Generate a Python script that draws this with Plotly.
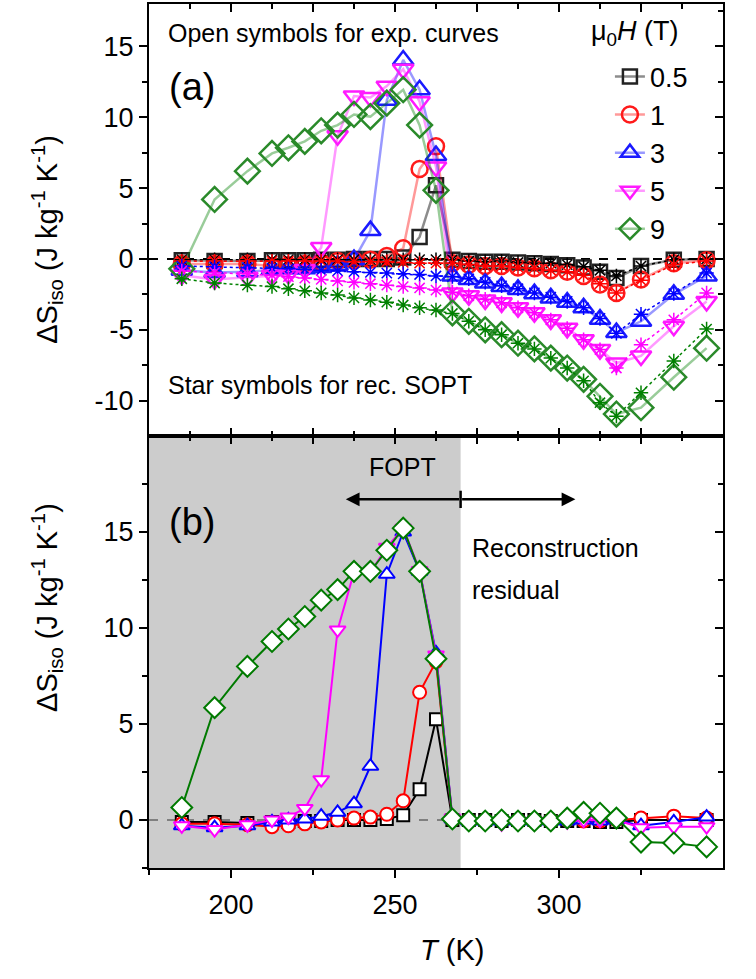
import plotly.graph_objects as go

# ---------------- data ----------------
T = [185, 195, 205, 212.5, 217.5, 222.5, 227.5, 232.5, 237.5, 242.5, 247.5, 252.5, 257.5,
     262.5, 267.5, 272.5, 277.5, 282.5, 287.5, 292.5, 297.5, 302.5, 307.5, 312.5, 317.5,
     325, 335, 345]

fields = ["0.5", "1", "3", "5", "9"]

# (a) experimental curves (open symbols)
exp_05 = [-0.1, -0.15, -0.15, -0.1, -0.1, -0.1, -0.05, -0.05, 0.0, 0.0, 0.0, 0.1, 1.55, 5.2,
          -0.05, -0.15, -0.2, -0.2, -0.25, -0.3, -0.35, -0.45, -0.6, -0.9, -1.35, -0.5, -0.05, 0.0]
exp_1 = [-0.35, -0.35, -0.35, -0.5, -0.45, -0.35, -0.25, -0.15, -0.1, -0.05, 0.2, 0.75, 6.35, 7.95,
         -0.3, -0.4, -0.5, -0.5, -0.6, -0.65, -0.8, -0.9, -1.2, -1.8, -2.4, -1.45, -0.3, -0.1]
exp_3 = [-0.8, -0.95, -0.9, -0.75, -0.7, -0.7, -0.6, -0.45, -0.05, 2.0, 11.2, 14.05, 11.95, 7.3,
         -1.2, -1.45, -1.7, -1.95, -2.15, -2.45, -2.75, -3.05, -3.45, -4.25, -5.2, -4.4, -2.5, -1.2]
exp_5 = [-1.15, -1.45, -1.3, -1.15, -1.1, -0.75, 0.8, 8.7, 11.5, 11.4, 12.2, 13.4, 11.1, 6.5,
         -2.4, -2.6, -2.9, -3.1, -3.45, -3.8, -4.3, -4.9, -5.7, -6.4, -7.35, -6.85, -4.75, -3.0]
exp_9 = [-0.7, 4.2, 6.2, 7.45, 7.85, 8.3, 9.05, 9.45, 10.2, 10.05, 11.0, 11.95, 9.45, 4.85,
         -3.8, -4.4, -5.0, -5.35, -5.95, -6.35, -7.0, -7.7, -8.5, -9.7, -10.95, -10.5, -8.35, -6.3]

# (a) reconstructed SOPT (star symbols)
rec_05 = [-0.05, -0.05, -0.05, -0.05, -0.05, -0.05, -0.05, -0.05, -0.05, -0.05, -0.05, -0.05, -0.05, -0.05,
          -0.05, -0.15, -0.2, -0.15, -0.25, -0.3, -0.3, -0.4, -0.55, -0.8, -1.2, -0.5, -0.05, 0.0]
rec_1 = [-0.15, -0.15, -0.15, -0.15, -0.15, -0.15, -0.15, -0.15, -0.2, -0.2, -0.2, -0.25, -0.3, -0.3,
         -0.3, -0.4, -0.5, -0.5, -0.6, -0.65, -0.8, -0.9, -1.15, -1.75, -2.4, -1.5, -0.4, -0.15]
rec_3 = [-0.5, -0.55, -0.6, -0.65, -0.7, -0.75, -0.8, -0.85, -0.9, -0.95, -1.0, -1.05, -1.1, -1.2,
         -1.25, -1.4, -1.65, -1.9, -2.1, -2.4, -2.7, -3.0, -3.45, -4.2, -5.25, -3.9, -2.45, -1.0]
rec_5 = [-0.85, -0.95, -1.05, -1.15, -1.25, -1.35, -1.45, -1.55, -1.65, -1.75, -1.85, -1.95, -2.05, -2.2,
         -2.35, -2.6, -2.85, -3.1, -3.45, -3.8, -4.3, -4.9, -5.7, -6.4, -7.7, -6.05, -4.3, -2.4]
rec_9 = [-1.4, -1.7, -1.85, -1.95, -2.1, -2.25, -2.4, -2.55, -2.75, -2.9, -3.05, -3.25, -3.45, -3.6,
         -3.85, -4.4, -5.0, -5.35, -5.95, -6.35, -7.0, -7.7, -8.6, -10.15, -11.1, -9.45, -7.2, -4.95]

# (b) reconstruction residual
res_05 = [-0.1, -0.1, -0.15, -0.1, -0.1, -0.05, -0.05, 0.0, 0.0, 0.0, 0.05, 0.25, 1.6, 5.25,
          0.0, 0.0, 0.0, -0.05, 0.0, 0.0, -0.05, -0.05, -0.05, -0.1, -0.1, 0.0, 0.0, 0.0]
res_1 = [-0.2, -0.2, -0.25, -0.35, -0.3, -0.2, -0.1, 0.0, 0.1, 0.15, 0.3, 1.0, 6.65, 8.25,
         0.0, 0.0, 0.0, 0.0, 0.0, 0.0, 0.0, 0.0, -0.05, -0.05, 0.0, 0.1, 0.2, 0.1]
res_3 = [-0.3, -0.4, -0.3, -0.1, 0.0, 0.05, 0.2, 0.4, 0.85, 2.8, 12.8, 15.0, 12.95, 8.7,
         0.05, -0.05, -0.05, -0.05, -0.05, -0.05, -0.05, -0.05, 0.0, -0.05, 0.0, -0.3, -0.1, 0.15]
res_5 = [-0.3, -0.5, -0.25, 0.0, 0.15, 0.6, 2.1, 9.9, 12.9, 12.9, 14.2, 15.2, 13.0, 8.6,
         0.1, -0.1, -0.1, -0.2, -0.05, -0.1, -0.05, -0.1, 0.0, 0.0, 0.0, -0.4, -0.35, -0.35]
res_9 = [0.65, 5.85, 8.0, 9.3, 9.95, 10.6, 11.45, 12.0, 12.95, 12.95, 14.05, 15.2, 12.95, 8.4,
         0.05, -0.05, -0.05, 0.0, -0.05, -0.05, -0.05, 0.1, 0.4, 0.35, 0.1, -1.15, -1.2, -1.4]

exp_all = [exp_05, exp_1, exp_3, exp_5, exp_9]
rec_all = [rec_05, rec_1, rec_3, rec_5, rec_9]
res_all = [res_05, res_1, res_3, res_5, res_9]

# tick labels
ya_tickvals = [-10, -5, 0, 5, 10, 15]
ya_ticktext = ["-10", "-5", "0", "5", "10", "15"]
yb_tickvals = [0, 5, 10, 15, 20]
yb_ticktext = ["0", "5", "10", "15", "20"]
x_tickvals = [200, 250, 300, 350]
x_ticktext = ["200", "250", "300", "350"]

# ---------------- styles ----------------
FONT = "Liberation Sans, Arial, sans-serif"
symbols = ["square-open", "circle-open", "triangle-up-open", "triangle-down-open", "diamond-open"]
symbols_b = ["square", "circle", "triangle-up", "triangle-down", "diamond"]
sizes_a = [14, 16, 18, 18, 19]
sizes_b = [12, 13, 14, 14, 16]
col_a = ["#222222", "#ff1a1a", "#1a1aff", "#ff1aff", "#2a8a2a"]
col_line_a = ["rgba(0,0,0,0.45)", "rgba(255,0,0,0.4)", "rgba(0,0,255,0.4)",
              "rgba(255,0,255,0.4)", "rgba(0,128,0,0.4)"]
col_star = ["#000000", "#ff0000", "#0000ff", "#ff00ff", "#008000"]
col_b = ["#000000", "#ff0000", "#0000ff", "#ff00ff", "#007a00"]

fig = go.Figure()

# ---- panel (b): residual ----
for i in range(5):
    fig.add_trace(go.Scatter(
        x=T, y=res_all[i], mode="lines+markers", xaxis="x", yaxis="y",
        line=dict(color=col_b[i], width=2),
        marker=dict(symbol=symbols_b[i], size=sizes_b[i], color="white",
                    line=dict(color=col_b[i], width=2)),
        showlegend=False, hoverinfo="skip"))

# ---- panel (a): experimental + reconstruction ----
for i in range(5):
    fig.add_trace(go.Scatter(
        x=T, y=exp_all[i], mode="lines+markers", xaxis="x2", yaxis="y2",
        name=fields[i],
        line=dict(color=col_line_a[i], width=2.5),
        marker=dict(symbol=symbols[i], size=sizes_a[i], color=col_a[i],
                    line=dict(color=col_a[i], width=2.5)),
        hoverinfo="skip"))
for i in range(5):
    fig.add_trace(go.Scatter(
        x=T, y=rec_all[i], mode="lines+markers", xaxis="x2", yaxis="y2",
        line=dict(color=col_star[i], width=1.5, dash="dot"),
        marker=dict(symbol="asterisk-open", size=12, color=col_star[i],
                    line=dict(color=col_star[i], width=1.5)),
        showlegend=False, hoverinfo="skip"))

# transparent copies on the mirror axes so that their inward ticks are drawn
for xa, ya, yy in [("x3", "y", res_05), ("x", "y3", res_05), ("x4", "y2", exp_05), ("x2", "y4", exp_05)]:
    fig.add_trace(go.Scatter(x=T, y=yy, xaxis=xa, yaxis=ya, mode="lines",
                             line=dict(width=0.1, color="rgba(0,0,0,0)"), opacity=0,
                             showlegend=False, hoverinfo="skip"))

# ---------------- axes ----------------
XR = [175, 350]
YA = [-12.5, 18]
YB = [-2.5, 20]
tickfont = dict(family=FONT, size=27, color="black")
mirror_font = dict(family=FONT, size=6, color="rgba(255,255,255,0)")

common_x = dict(range=XR, showgrid=False, zeroline=False, linecolor="black", linewidth=2,
                tickcolor="black", tickwidth=2)
common_y = dict(showgrid=False, zeroline=False, linecolor="black", linewidth=2,
                tickcolor="black", tickwidth=2)
minor_in_x = dict(dtick=12.5, tick0=175, ticks="inside", ticklen=5, tickcolor="black", tickwidth=1.5)
minor_in_y = dict(dtick=2.5, tick0=0, ticks="inside", ticklen=5, tickcolor="black", tickwidth=1.5)
minor_out_y = dict(dtick=2.5, tick0=0, ticks="outside", ticklen=5, tickcolor="black", tickwidth=1.5)

fig.update_layout(
    template="none",
    xaxis=dict(**common_x, domain=[0, 1], anchor="y", mirror=True, showline=True,
               tickmode="array", tickvals=x_tickvals, ticktext=x_ticktext, ticks="outside", ticklen=8,
               minor=dict(dtick=25, tick0=175, ticks="outside", ticklen=5, tickcolor="black", tickwidth=1.5),
               tickfont=tickfont, ticklabelstandoff=4),
    yaxis=dict(**common_y, range=YB, domain=[0, 0.5], anchor="x", showline=True, mirror=True,
               tickmode="array", tickvals=yb_tickvals, ticktext=yb_ticktext, ticks="outside", ticklen=8,
               minor=minor_out_y, tickfont=tickfont),
    xaxis2=dict(**common_x, domain=[0, 1], anchor="y2", mirror=True, showline=True,
                dtick=25, tick0=200, ticks="inside", ticklen=8,
                minor=minor_in_x, tickfont=mirror_font, ticklabelposition="inside"),
    yaxis2=dict(**common_y, range=YA, domain=[0.5, 1], anchor="x2", showline=True, mirror=True,
                tickmode="array", tickvals=ya_tickvals, ticktext=ya_ticktext, ticks="outside", ticklen=8,
                minor=minor_out_y, tickfont=tickfont),
    # inward mirror ticks (transparent labels kept inside the plot area)
    xaxis3=dict(**common_x, overlaying="x", side="top", anchor="y",
                dtick=25, tick0=200, ticks="inside", ticklen=8,
                minor=minor_in_x, tickfont=mirror_font, ticklabelposition="inside"),
    xaxis4=dict(**common_x, overlaying="x2", side="top", anchor="y2",
                dtick=25, tick0=200, ticks="inside", ticklen=8,
                minor=minor_in_x, tickfont=mirror_font, ticklabelposition="inside"),
    yaxis3=dict(**common_y, range=YB, overlaying="y", side="right", anchor="x",
                dtick=5, tick0=0, ticks="inside", ticklen=8,
                minor=minor_in_y, tickfont=mirror_font, ticklabelposition="inside"),
    yaxis4=dict(**common_y, range=YA, overlaying="y2", side="right", anchor="x2",
                dtick=5, tick0=0, ticks="inside", ticklen=8,
                minor=minor_in_y, tickfont=mirror_font, ticklabelposition="inside"),
)

# ---------------- shapes ----------------
shapes = [
    # FOPT region shading in panel (b)
    dict(type="rect", xref="x", yref="y domain", x0=175, x1=270, y0=0, y1=1,
         fillcolor="#cccccc", line=dict(width=0), layer="below"),
    # zero lines
    dict(type="line", xref="x2 domain", yref="y2", x0=0, x1=1, y0=0, y1=0,
         line=dict(color="black", width=2, dash="dash"), layer="below"),
    dict(type="line", xref="x domain", yref="y", x0=0, x1=1, y0=0, y1=0,
         line=dict(color="#333333", width=1, dash="dash"), layer="below"),
    # separator tick of the double arrow
    dict(type="line", xref="x", yref="y", x0=270, x1=270, y0=16.25, y1=17.15,
         line=dict(color="black", width=2.5)),
]
fig.update_layout(shapes=shapes)

# ---------------- annotations ----------------
def ann(text, x, y, size=25, xanchor="left", **kw):
    return dict(text=text, x=x, y=y, xref="paper", yref="paper", showarrow=False,
                xanchor=xanchor, yanchor="middle",
                font=dict(family=FONT, size=size, color="black"), **kw)

annotations = [
    ann("Open symbols for exp. curves", 0.030, 0.966),
    ann("(a)", 0.032, 0.904, size=38),
    ann("Star symbols for rec. SOPT", 0.030, 0.559),
    ann("(b)", 0.032, 0.400, size=38),
    ann("FOPT", 0.4425, 0.464, xanchor="center"),
    ann("Reconstruction", 0.560, 0.3704),
    ann("residual", 0.560, 0.3218),
    ann("μ<sub>0</sub><i>H</i> (T)", 0.766, 0.966, size=27),
    ann("ΔS<sub>iso</sub> (J kg<sup>-1</sup> K<sup>-1</sup>)", -0.178, 0.728, size=29,
        xanchor="center", textangle=-90),
    ann("ΔS<sub>iso</sub> (J kg<sup>-1</sup> K<sup>-1</sup>)", -0.178, 0.302, size=29,
        xanchor="center", textangle=-90),
    ann("<i>T</i> (K)", 0.528, -0.095, size=29, xanchor="center"),
    # double arrow
    dict(x=235, y=16.7, ax=270, ay=16.7, xref="x", yref="y", axref="x", ayref="y",
         text="", showarrow=True, arrowhead=2, arrowsize=1.1, arrowwidth=2.5, arrowcolor="black"),
    dict(x=305, y=16.7, ax=270, ay=16.7, xref="x", yref="y", axref="x", ayref="y",
         text="", showarrow=True, arrowhead=2, arrowsize=1.1, arrowwidth=2.5, arrowcolor="black"),
]

fig.update_layout(
    annotations=annotations,
    width=756, height=979,
    margin=dict(l=149, r=33, t=4, b=111, pad=0, autoexpand=False),
    paper_bgcolor="white", plot_bgcolor="white",
    font=dict(family=FONT, size=22, color="black"),
    showlegend=True,
    legend=dict(
        font=dict(family=FONT, size=27),
        x=0.803, y=0.944, xanchor="left", yanchor="top",
        bgcolor="rgba(0,0,0,0)", borderwidth=0, tracegroupgap=0,
    ),
)

fig.write_html("out.html")
